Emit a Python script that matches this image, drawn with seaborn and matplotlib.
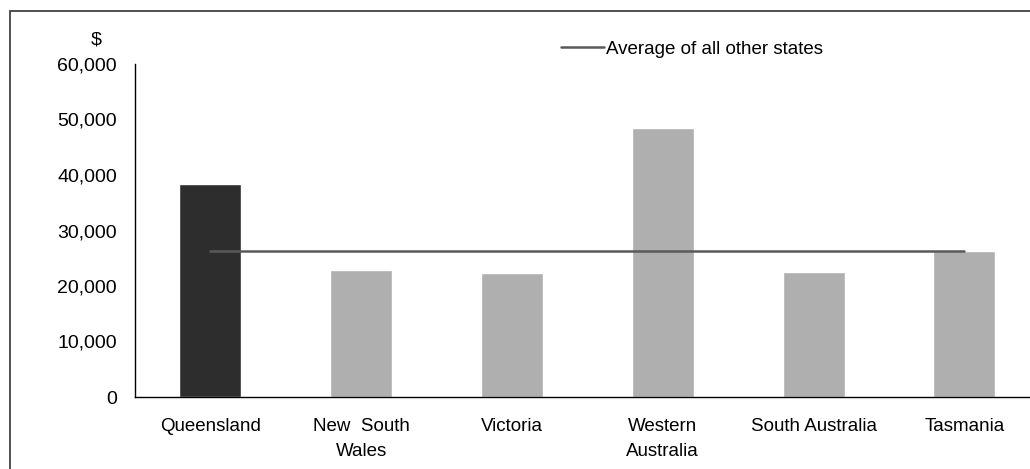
import numpy as np
import matplotlib
matplotlib.use("Agg")
import matplotlib.pyplot as plt
import seaborn as sns
import pandas as pd
from matplotlib.patches import Rectangle
from matplotlib.ticker import FuncFormatter

# data
states = ["Queensland", "New  South\nWales", "Victoria", "Western\nAustralia", "South Australia", "Tasmania"]
values = [38300, 22850, 22300, 48400, 22500, 26250]
avg_other = 26250
bar_colors = ["#2d2d2d", "#afafaf", "#afafaf", "#afafaf", "#afafaf", "#afafaf"]

sns.set_theme(style="white")
plt.rcParams['font.family'] = ['Liberation Sans', 'DejaVu Sans']
plt.rcParams['text.color'] = 'black'

df = pd.DataFrame({"state": states, "value": values})
df_avg = pd.DataFrame({"state": states, "avg": [avg_other] * len(states)})

fig = plt.figure(figsize=(10.3, 4.69), dpi=100)
ax = fig.add_axes([135 / 1030, 72 / 469, 895 / 1030, 333 / 469])

sns.barplot(data=df, x="state", y="value", hue="state", palette=bar_colors,
            width=0.41, legend=False, saturation=1, ax=ax)
sns.lineplot(data=df_avg, x="state", y="avg", color="#595959", linewidth=1.8,
             label="Average of all other states", ax=ax)

ax.set_ylim(0, 60000)
ax.set_xlim(-0.5, 5.435)
ax.set_yticks(np.arange(0, 60001, 10000))
ax.yaxis.set_major_formatter(FuncFormatter(lambda v, p: f"{int(v):,}"))
ax.set_xlabel("")
ax.set_ylabel("")
ax.tick_params(axis="y", labelsize=14, length=0, pad=13, colors="black")
ax.tick_params(axis="x", labelsize=13.5, length=0, pad=15, colors="black")
for lab in ax.get_xticklabels():
    lab.set_linespacing(1.65)
sns.despine(ax=ax, top=True, right=True)
for side in ["left", "bottom"]:
    ax.spines[side].set_color("black")
    ax.spines[side].set_linewidth(1)

fig.text(96 / 1030, 1 - 40 / 469, "$", fontsize=14, ha="center", va="center")

leg = ax.legend(loc="center left", bbox_to_anchor=(418 / 895, 1 + 15 / 333), frameon=False,
                fontsize=13.5, handlelength=2.3, handletextpad=0.1, borderaxespad=0)

# outer frame
fig.patches.append(Rectangle((10 / 1030, -0.05), 1.1, (469 - 11) / 469 + 0.05,
                             transform=fig.transFigure, fill=False,
                             edgecolor="#333333", linewidth=1.2))

fig.savefig("out.png", dpi=100)
